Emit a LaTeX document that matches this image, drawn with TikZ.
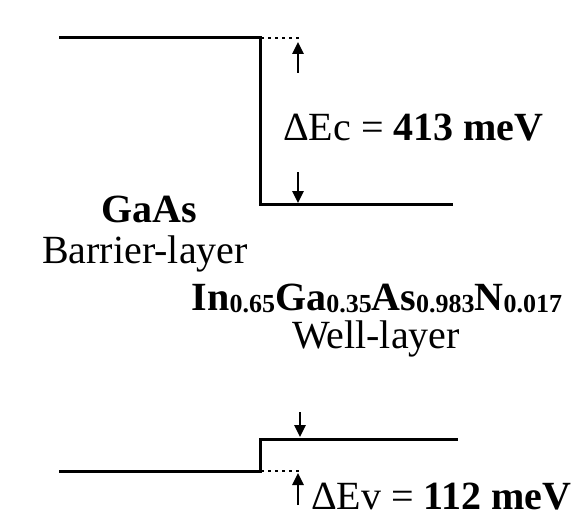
\documentclass[tikz,border=0pt]{standalone}
\usepackage{fontspec}
\setmainfont{Liberation Serif}
\usetikzlibrary{arrows.meta}

\newcommand{\idx}[1]{\raisebox{-2pt}{\fontsize{26}{26}\selectfont #1}}

\begin{document}
\begin{tikzpicture}[
  x=1pt,y=-1pt,
  band/.style={line width=3pt},
  dots/.style={line width=2.4pt,dash pattern=on 3pt off 4pt},
  offsetarrow/.style={line width=2.6pt,-{Triangle[length=12pt,width=11pt]}},
  lbl/.style={inner sep=0pt,font=\fontsize{40}{42}\selectfont}
]
  \useasboundingbox (0,0) rectangle (571,527);

  % conduction band
  \draw[band] (59,38) -- (260,38) -- (260,204) -- (453,204);
  \draw[dots] (261,38) -- (300,38);
  \coordinate (cup) at (298,42);
  \coordinate (cdn) at (298,203);
  \draw[offsetarrow] (298,73) -- (cup);
  \draw[offsetarrow] (298,172) -- (cdn);
  \node[lbl,anchor=base west] (dEc) at (283,140) {ΔEc = \textbf{413 meV}};

  % valence band
  \draw[band] (59,471) -- (260,471) -- (260,439) -- (458,439);
  \draw[dots] (261,471) -- (299,471);
  \coordinate (vdn) at (300,437);
  \coordinate (vup) at (298,473);
  \draw[offsetarrow] (300,412) -- (vdn);
  \draw[offsetarrow] (298,505) -- (vup);
  \node[lbl,anchor=base west] (dEv) at (311,509) {ΔEv = \textbf{112 meV}};

  % layers
  \node[lbl,anchor=base] (gaas) at (149,222) {\textbf{GaAs}};
  \node[lbl,anchor=base] (barrier) at (145,263) {Barrier-layer};
  \node[lbl,anchor=base] (ingaasn) at (377,310)
    {\textbf{In\idx{0.65}Ga\idx{0.35}As\idx{0.983}N\idx{0.017}}};
  \node[lbl,anchor=base] (well) at (376,348) {Well-layer};
\end{tikzpicture}
\end{document}
